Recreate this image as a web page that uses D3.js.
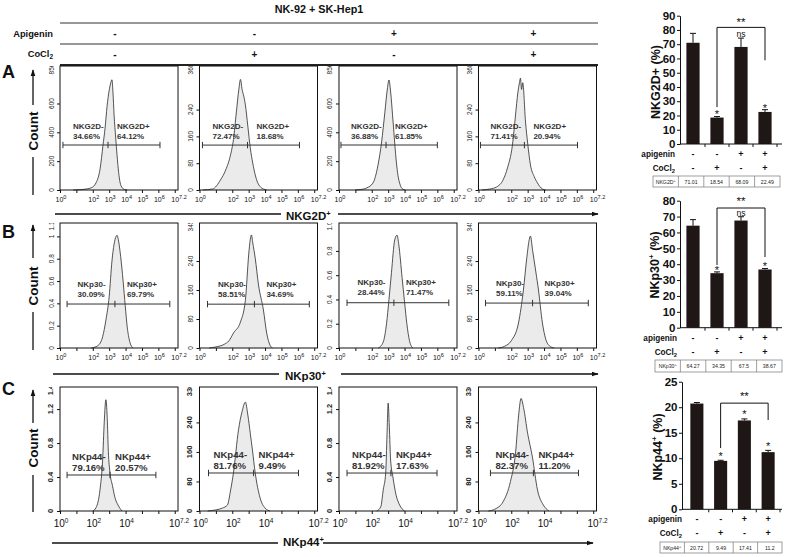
<!DOCTYPE html>
<html><head><meta charset="utf-8">
<script src="https://cdn.jsdelivr.net/npm/d3@7"></script>
<style>
body{margin:0;background:#fff}
svg{display:block}
text{font-family:"Liberation Sans",Arial,Helvetica,sans-serif}
</style>
</head><body>
<svg id="c" width="787" height="557"></svg>
<script>
// ---------------- DATA ----------------
const figTitle = "NK-92 + SK-Hep1";
const apigenin = ["-", "-", "+", "+"];
const cocl2 = ["-", "+", "-", "+"];
const rowLetters = ["A", "B", "C"];
const markers = ["NKG2D", "NKp30", "NKp44"];

// histogram points: [log10 fluorescence, count]
const histNKG2D = [
  [[0.8,0],[1.4,4],[1.9,15],[2.2,50],[2.45,150],[2.62,308],[2.75,430],[2.87,580],[3.0,690],[3.1,745],[3.17,765],[3.23,680],[3.3,520],[3.4,360],[3.48,243],[3.58,120],[3.66,55],[3.8,15],[3.96,2],[4.1,0]],
  [[0.2,0],[0.8,3],[1.28,30],[1.6,60],[1.89,104],[2.07,150],[2.25,233],[2.4,300],[2.5,330],[2.6,300],[2.7,280],[2.8,254],[2.95,190],[3.1,125],[3.25,80],[3.4,45],[3.55,22],[3.7,10],[3.9,3],[4.1,0]],
  [[1.0,0],[1.3,3],[1.7,15],[2.07,48],[2.38,173],[2.6,333],[2.8,540],[2.95,700],[3.05,763],[3.15,680],[3.3,472],[3.5,194],[3.6,100],[3.7,48],[3.9,5],[4.05,0]],
  [[0.2,0],[0.7,3],[1.1,9],[1.5,30],[1.77,66],[2.07,134],[2.26,224],[2.4,290],[2.5,320],[2.56,334],[2.63,300],[2.7,320],[2.87,203],[3.0,140],[3.17,75],[3.4,40],[3.6,21],[3.9,3],[4.1,0]]
];
const histNKp30 = [
  [[1.9,0],[2.3,0.02],[2.6,0.1],[2.8,0.25],[3.0,0.46],[3.17,0.78],[3.3,0.93],[3.42,1.0],[3.48,1.01],[3.56,0.97],[3.7,0.82],[3.85,0.6],[3.98,0.38],[4.1,0.19],[4.25,0.06],[4.45,0]],
  [[0.6,0],[1.0,3],[1.5,10],[1.8,20],[2.07,41],[2.5,72],[2.8,132],[3.0,257],[3.1,300],[3.17,312],[3.25,290],[3.4,248],[3.6,174],[3.9,105],[4.1,41],[4.3,8],[4.45,0]],
  [[2.4,0],[2.7,0.05],[2.9,0.2],[3.05,0.4],[3.2,0.62],[3.4,0.89],[3.54,0.93],[3.65,0.85],[3.85,0.58],[4.0,0.38],[4.14,0.2],[4.3,0.06],[4.5,0]],
  [[1.2,0],[1.6,5],[2.0,20],[2.44,69],[2.74,160],[2.95,250],[3.1,300],[3.17,309],[3.3,270],[3.5,210],[3.66,160],[3.9,69],[4.1,25],[4.35,5],[4.6,0]]
];
const histNKp44 = [
  [[2.0,0],[2.2,0.04],[2.44,0.25],[2.6,0.6],[2.7,1.05],[2.8,1.31],[2.88,1.1],[2.95,0.7],[3.05,0.45],[3.2,0.3],[3.35,0.16],[3.54,0.07],[3.78,0]],
  [[0.5,0],[1.0,3],[1.4,8],[1.7,16],[1.9,57],[2.07,103],[2.38,220],[2.6,270],[2.8,295],[2.95,260],[3.1,210],[3.23,165],[3.4,103],[3.7,35],[4.0,8],[4.3,0]],
  [[2.3,0],[2.55,0.05],[2.7,0.25],[2.85,0.45],[2.93,0.9],[3.0,1.27],[3.07,1.0],[3.15,0.6],[3.29,0.4],[3.48,0.19],[3.7,0.07],[4.0,0]],
  [[0.6,0],[1.0,5],[1.5,25],[1.95,80],[2.26,157],[2.45,260],[2.6,305],[2.75,280],[3.0,210],[3.29,146],[3.6,57],[3.96,16],[4.3,0]]
];

const yMaxNKG2D = [860, 370, 860, 370];
const yMaxNKp30 = [1.12, 345, 1.03, 345];
const yMaxNKp44 = [1.46, 336, 1.46, 336];
const yTicksNKG2D = [[0,200,400,600],[0,80,160,240],[0,200,400,600],[0,80,160,240]];
const yTicksNKp30 = [[0,0.2,0.4,0.6,0.8,1],[0,80,160,240],[0,0.2,0.4,0.6,0.8],[0,80,160,240]];
const yTicksNKp44 = [[0,0.4,0.8,1.2],[0,80,160,240],[0,0.4,0.8,1.2],[0,80,160,240]];
const yTopLabelNKG2D = ["856", "368", "856", "368"];
const yTopLabelNKp30 = ["1.1", "345", "1.0", "345"];
const yTopLabelNKp44 = ["1.4", "336", "1.4", "336"];

// gates: [left, divider, right] in log10 units; gate level in counts
const gatesNKG2D = [[0.18,2.93,6.1],[0.18,2.93,6.1],[0.12,2.87,6.0],[0.12,2.8,6.04]];
const gatesNKp30 = [[0.43,3.35,6.7],[0.49,3.35,6.7],[0.49,3.35,6.7],[0.43,3.3,6.7]];
const gatesNKp44 = [[0.43,3.05,5.85],[0.55,3.3,6.04],[0.49,3.17,5.98],[0.73,3.35,6.1]];
const gateLevelNKG2D = [312, 134, 312, 134];
const gateLevelNKp30 = [0.394, 121, 0.373, 124];
const gateLevelNKp44 = [0.424, 103, 0.447, 103];
const pctNKG2D = [["34.66%","64.12%"],["72.47%","18.68%"],["36.88%","61.85%"],["71.41%","20.94%"]];
const pctNKp30 = [["30.09%","69.79%"],["58.51%","34.69%"],["28.44%","71.47%"],["59.11%","39.04%"]];
const pctNKp44 = [["79.16%","20.57%"],["81.76%","9.49%"],["81.92%","17.63%"],["82.37%","11.20%"]];
const xTicksAB = [0,2,3,4,5,6,7.2];
const xTicksC = [0,2,4,7.2];
const xDecades = [0,1,2,3,4,5,6,7];

// bar charts
const barNKG2D = [71.01, 18.54, 68.09, 22.49];
const errNKG2D = [6.6, 0.7, 6.2, 1.6];
const sigNKG2D = ["", "*", "ns", "*"];
const tableNKG2D = ["71.01", "18.54", "68.09", "22.49"];
const barNKp30 = [64.27, 34.35, 67.5, 36.67];
const errNKp30 = [3.8, 0.8, 2.4, 0.6];
const sigNKp30 = ["", "*", "ns", "*"];
const tableNKp30 = ["64.27", "34.35", "67.5", "38.67"];
const barNKp44 = [20.72, 9.49, 17.41, 11.2];
const errNKp44 = [0.2, 0.12, 0.3, 0.35];
const sigNKp44 = ["", "*", "*", "*"];
const tableNKp44 = ["20.72", "9.49", "17.41", "11.2"];
const yTicksBarNKG2D = [0,10,20,30,40,50,60,70,80,90];
const yTicksBarNKp30 = [0,10,20,30,40,50,60,70,80];
const yTicksBarNKp44 = [0,5,10,15,20,25];
// bracket: [from bar, to bar, level, left leg end, right leg end]
const bracketNKG2D = [1, 3, 81.8, 25.9, 58.7];
const bracketNKp30 = [1, 3, 75.4, 39.5, 44.5];
const bracketNKp44 = [1, 3, 20.8, 12.0, 17.5];

// ---------------- DRAWING ----------------
const svg = d3.select("#c");
const defs = svg.append("defs");
defs.append("marker").attr("id","arr").attr("viewBox","0 0 10 10").attr("refX",9).attr("refY",5)
  .attr("markerWidth",7).attr("markerHeight",7).attr("markerUnits","userSpaceOnUse").attr("orient","auto")
  .append("path").attr("d","M0,1.5L10,5L0,8.5Z").attr("fill","#111");

// header
const hdr = svg.append("g");
hdr.append("text").attr("x",319).attr("y",13).attr("text-anchor","middle")
  .attr("font-size",10.8).attr("font-weight","bold").attr("fill","#111").text(figTitle);
[23,44].forEach(yy => hdr.append("line").attr("x1",60).attr("x2",598).attr("y1",yy).attr("y2",yy)
  .attr("stroke","#333").attr("stroke-width",1));
hdr.append("line").attr("x1",60).attr("x2",598).attr("y1",65).attr("y2",65).attr("stroke","#222").attr("stroke-width",2);
hdr.append("text").attr("x",53).attr("y",36.5).attr("text-anchor","end").attr("font-size",9.3)
  .attr("font-weight","bold").attr("fill","#111").text("Apigenin");
const coT = hdr.append("text").attr("x",53).attr("y",57).attr("text-anchor","end").attr("font-size",9.3)
  .attr("font-weight","bold").attr("fill","#111");
coT.append("tspan").text("CoCl");
coT.append("tspan").attr("font-size",6.5).attr("dy",2).text("2");

const colBand = d3.scaleBand().domain(d3.range(4)).range([60,596.5]).paddingInner(0.154);
const bw = colBand.bandwidth();
apigenin.forEach((s,i) => hdr.append("text").attr("x",colBand(i)+bw/2-4).attr("y",37)
  .attr("text-anchor","middle").attr("font-size",10).attr("font-weight","bold").attr("fill","#111").text(s));
cocl2.forEach((s,i) => hdr.append("text").attr("x",colBand(i)+bw/2-4).attr("y",58)
  .attr("text-anchor","middle").attr("font-size",10).attr("font-weight","bold").attr("fill","#111").text(s));

const rows = [
  {hist:histNKG2D, yMax:yMaxNKG2D, yTicks:yTicksNKG2D, topLab:yTopLabelNKG2D, gates:gatesNKG2D, gateLv:gateLevelNKG2D, pct:pctNKG2D,
   top:66, bottom:190, xTicks:xTicksAB, xFont:7, supFont:5.5, xLabDy:12, yFont:6.5, yBold:false, yLabOff:6.5,
   labFont:8, dxL:10, dxR:9, nameDy:-16.3, pctDy:-6.3, letterY:78, countY:131, arrow:[105,70], below:[157,195],
   titleX:286, titleY:220, lineY:214, lineL:[55,281], lineR:[338,598]},
  {hist:histNKp30, yMax:yMaxNKp30, yTicks:yTicksNKp30, topLab:yTopLabelNKp30, gates:gatesNKp30, gateLv:gateLevelNKp30, pct:pctNKp30,
   top:223, bottom:348, xTicks:xTicksAB, xFont:7, supFont:5.5, xLabDy:12, yFont:6.5, yBold:false, yLabOff:6.5,
   labFont:8, dxL:10.5, dxR:12, nameDy:-17.3, pctDy:-7.3, letterY:238, countY:286, arrow:[258,225], below:[312,350],
   titleX:285, titleY:380, lineY:374, lineL:[53,279], lineR:[341,598]},
  {hist:histNKp44, yMax:yMaxNKp44, yTicks:yTicksNKp44, topLab:yTopLabelNKp44, gates:gatesNKp44, gateLv:gateLevelNKp44, pct:pctNKp44,
   top:387, bottom:511, xTicks:xTicksC, xFont:10, supFont:6.5, xLabDy:16, yFont:7.5, yBold:true, yLabOff:7,
   labFont:9.6, dxL:5, dxR:5, nameDy:-15.2, pctDy:-4.2, letterY:395, countY:448, arrow:[423,390], below:[475,512],
   titleX:283, titleY:546, lineY:543, lineL:[52,278], lineR:[323,593]}
];

rows.forEach((R, r) => {
  const g = svg.append("g");
  const cid = "clip" + r;
  defs.append("clipPath").attr("id",cid).append("rect").attr("x",0).attr("y",R.top).attr("width",600).attr("height",R.bottom-R.top+60);

  g.append("text").attr("x",2).attr("y",R.letterY).attr("font-size",18).attr("font-weight","bold").attr("fill","#111").text(rowLetters[r]);
  g.append("line").attr("x1",33).attr("x2",33).attr("y1",R.arrow[0]).attr("y2",R.arrow[1])
    .attr("stroke","#111").attr("stroke-width",1.3).attr("marker-end","url(#arr)");
  g.append("line").attr("x1",33).attr("x2",33).attr("y1",R.below[0]).attr("y2",R.below[1]).attr("stroke","#111").attr("stroke-width",1.3);
  g.append("text").attr("transform",`translate(37.5,${R.countY}) rotate(-90)`).attr("text-anchor","middle")
    .attr("font-size",13.5).attr("font-weight","bold").attr("fill","#111").text("Count");
  const tt = g.append("text").attr("x",R.titleX).attr("y",R.titleY).attr("font-size",11.5).attr("font-weight","bold").attr("fill","#111");
  tt.append("tspan").text(markers[r]);
  tt.append("tspan").attr("font-size",7.5).attr("dy",-4.5).text("+");
  g.append("line").attr("x1",R.lineL[0]).attr("x2",R.lineL[1]).attr("y1",R.lineY).attr("y2",R.lineY).attr("stroke","#111").attr("stroke-width",1.3);
  g.append("line").attr("x1",R.lineR[0]).attr("x2",R.lineR[1]).attr("y1",R.lineY).attr("y2",R.lineY)
    .attr("stroke","#111").attr("stroke-width",1.3).attr("marker-end","url(#arr)");

  for (let i = 0; i < 4; i++) {
    const x0 = colBand(i), x1 = x0 + bw;
    const x = d3.scaleLinear().domain([0,7.2]).range([x0,x1]);
    const y = d3.scaleLinear().domain([0,R.yMax[i]]).range([R.bottom,R.top]);
    const p = g.append("g");
    const area = d3.area().x(d=>x(d[0])).y0(y(0)).y1(d=>y(d[1])).curve(d3.curveMonotoneX);
    const line = d3.line().x(d=>x(d[0])).y(d=>y(d[1])).curve(d3.curveMonotoneX);
    p.append("path").datum(R.hist[i]).attr("d",area).attr("fill","#ebebeb");
    p.append("path").datum(R.hist[i]).attr("d",line).attr("fill","none").attr("stroke","#2a2a2a").attr("stroke-width",0.8);
    p.append("rect").attr("x",x0).attr("y",R.top).attr("width",bw).attr("height",R.bottom-R.top)
      .attr("fill","none").attr("stroke","#111").attr("stroke-width",1);
    p.append("g").attr("transform",`translate(0,${R.bottom})`)
      .call(d3.axisBottom(x).tickValues(xDecades).tickSize(3).tickFormat(""))
      .call(s=>{s.select(".domain").remove(); s.selectAll("line").attr("stroke","#111");});
    R.xTicks.forEach(t => {
      const tx = p.append("text").attr("x",x(t)+1).attr("y",R.bottom+R.xLabDy).attr("text-anchor","middle")
        .attr("font-size",R.xFont).attr("fill","#111");
      tx.append("tspan").text("10");
      tx.append("tspan").attr("font-size",R.supFont).attr("dy",-R.xFont*0.42).text(String(t));
    });
    p.append("g").attr("transform",`translate(${x0},0)`)
      .call(d3.axisLeft(y).tickValues(R.yTicks[i]).tickSize(3).tickFormat(""))
      .call(s=>{s.select(".domain").remove(); s.selectAll("line").attr("stroke","#111");});
    const yl = p.append("g").attr("clip-path",`url(#${cid})`);
    R.yTicks[i].forEach(t => {
      yl.append("text").attr("transform",`translate(${x0-R.yLabOff},${y(t)}) rotate(-90)`)
        .attr("text-anchor","middle").attr("font-size",R.yFont).attr("font-weight",R.yBold?"bold":"normal")
        .attr("fill","#222").text(String(t));
    });
    yl.append("text").attr("transform",`translate(${x0-R.yLabOff},${R.top+3}) rotate(-90)`)
      .attr("text-anchor","middle").attr("font-size",R.yFont).attr("font-weight",R.yBold?"bold":"normal")
      .attr("fill","#222").text(R.topLab[i]);
    const gt = R.gates[i], gy = y(R.gateLv[i]);
    p.append("line").attr("x1",x(gt[0])).attr("x2",x(gt[2])).attr("y1",gy).attr("y2",gy).attr("stroke","#333").attr("stroke-width",1);
    gt.forEach(v => p.append("line").attr("x1",x(v)).attr("x2",x(v)).attr("y1",gy-3.2).attr("y2",gy+3.2).attr("stroke","#333").attr("stroke-width",1));
    const lab = (tx, ty, s) => p.append("text").attr("x",tx).attr("y",ty).attr("font-size",R.labFont)
      .attr("font-weight","bold").attr("fill","#333").text(s);
    lab(x(gt[0])+R.dxL, gy+R.nameDy, markers[r]+"-");
    lab(x(gt[0])+R.dxL, gy+R.pctDy, R.pct[i][0]);
    lab(x(gt[1])+R.dxR, gy+R.nameDy, markers[r]+"+");
    lab(x(gt[1])+R.dxR, gy+R.pctDy, R.pct[i][1]);
  }
});

// ---------------- BAR CHARTS ----------------
const bars = [
  {vals:barNKG2D, errs:errNKG2D, sig:sigNKG2D, tab:tableNKG2D, ticks:yTicksBarNKG2D, br:bracketNKG2D, marker:"NKG2D", supTitle:false,
   yMax:90, yTop:15.7, yBottom:144, axisX:680, axisEnd:782, band:[681,777], labRight:675, apiY:156.5, cocY:171,
   tableX:[653,780], tableY:[176,187], titleX:660, titleY:82, starUp:4.5, ddY:-1.5, nsUp:0},
  {vals:barNKp30, errs:errNKp30, sig:sigNKp30, tab:tableNKp30, ticks:yTicksBarNKp30, br:bracketNKp30, marker:"NKp30", supTitle:true,
   yMax:80, yTop:200.7, yBottom:327.7, axisX:680, axisEnd:782, band:[681,777], labRight:677, apiY:341, cocY:355,
   tableX:[655,782], tableY:[360,372], titleX:659, titleY:265, starUp:4.5, ddY:-3, nsUp:0.5},
  {vals:barNKp44, errs:errNKp44, sig:sigNKp44, tab:tableNKp44, ticks:yTicksBarNKp44, br:bracketNKp44, marker:"NKp44", supTitle:true,
   yMax:25, yTop:381.7, yBottom:509.3, axisX:682, axisEnd:782, band:[685,780], labRight:682, apiY:522, cocY:536,
   tableX:[660,782], tableY:[542,553], titleX:662, titleY:447, starUp:7, ddY:-3, nsUp:0}
];

bars.forEach(B => {
  const g = svg.append("g");
  const y = d3.scaleLinear().domain([0,B.yMax]).range([B.yBottom,B.yTop]);
  const x = d3.scaleBand().domain(d3.range(4)).range(B.band).paddingInner(0.45).paddingOuter(0.225);
  const cx = i => x(i) + x.bandwidth()/2;
  const step = x.step();
  B.vals.forEach((v,i) => {
    g.append("rect").attr("x",x(i)).attr("y",y(v)).attr("width",x.bandwidth()).attr("height",y(0)-y(v)).attr("fill","#1e1715");
    const et = y(v + B.errs[i]);
    g.append("line").attr("x1",cx(i)).attr("x2",cx(i)).attr("y1",y(v)).attr("y2",et).attr("stroke","#111").attr("stroke-width",1);
    g.append("line").attr("x1",cx(i)-3).attr("x2",cx(i)+3).attr("y1",et).attr("y2",et).attr("stroke","#111").attr("stroke-width",1);
    const s = B.sig[i];
    if (s === "ns") {
      g.append("text").attr("x",cx(i)).attr("y",et-1+B.nsUp).attr("text-anchor","middle").attr("font-size",8.6).attr("fill","#111").text(s);
    } else if (s) {
      g.append("text").attr("x",cx(i)).attr("y",et-B.starUp+6.4).attr("text-anchor","middle").attr("font-size",11).attr("fill","#111").text(s);
    }
  });
  g.append("g").attr("transform",`translate(${B.axisX},0)`)
    .call(d3.axisLeft(y).tickValues(B.ticks).tickSize(3).tickSizeOuter(0).tickPadding(1.5))
    .call(s=>{s.selectAll("line,path").attr("stroke","#111");
      s.selectAll("text").attr("font-size",11.5).attr("font-weight","bold").attr("fill","#111")
       .attr("font-family",'"Liberation Sans",Arial,sans-serif');});
  g.append("line").attr("x1",B.axisX).attr("x2",B.axisEnd).attr("y1",y(0)).attr("y2",y(0)).attr("stroke","#111").attr("stroke-width",1);
  [1,2,3,4].forEach(k => {
    const tx = x(0) - step*0.225 + k*step;
    g.append("line").attr("x1",tx).attr("x2",tx).attr("y1",y(0)).attr("y2",y(0)+3).attr("stroke","#111");
  });
  const [b0,b1,lv,le,re] = B.br;
  g.append("path").attr("d",`M${cx(b0)},${y(le)}V${y(lv)}H${cx(b1)}V${y(re)}`).attr("fill","none").attr("stroke","#111").attr("stroke-width",1);
  g.append("text").attr("x",(cx(b0)+cx(b1))/2).attr("y",y(lv)+B.ddY).attr("text-anchor","middle").attr("font-size",11.5).attr("fill","#111").text("**");
  const tt = g.append("text").attr("transform",`translate(${B.titleX},${B.titleY}) rotate(-90)`).attr("text-anchor","middle")
    .attr("font-size",12.5).attr("font-weight","bold").attr("fill","#111");
  if (B.supTitle) {
    tt.append("tspan").text(B.marker);
    tt.append("tspan").attr("font-size",8).attr("dy",-5).text("+");
    tt.append("tspan").attr("dy",5).text(" (%)");
  } else {
    tt.append("tspan").text(B.marker + "+ (%)");
  }
  g.append("text").attr("x",B.labRight).attr("y",B.apiY).attr("text-anchor","end").attr("font-size",8.2).attr("font-weight","bold").attr("fill","#111").text("apigenin");
  const ct = g.append("text").attr("x",B.labRight).attr("y",B.cocY).attr("text-anchor","end").attr("font-size",8.2).attr("font-weight","bold").attr("fill","#111");
  ct.append("tspan").text("CoCl");
  ct.append("tspan").attr("font-size",5.8).attr("dy",1.8).text("2");
  apigenin.forEach((s,i)=> g.append("text").attr("x",cx(i)).attr("y",B.apiY).attr("text-anchor","middle").attr("font-size",9).attr("font-weight","bold").attr("fill","#111").text(s));
  cocl2.forEach((s,i)=> g.append("text").attr("x",cx(i)).attr("y",B.cocY).attr("text-anchor","middle").attr("font-size",9).attr("font-weight","bold").attr("fill","#111").text(s));
  const tc = d3.scaleBand().domain(d3.range(5)).range(B.tableX);
  const [ty0,ty1] = B.tableY;
  g.append("rect").attr("x",B.tableX[0]).attr("y",ty0).attr("width",B.tableX[1]-B.tableX[0]).attr("height",ty1-ty0)
    .attr("fill","#fff").attr("stroke","#777").attr("stroke-width",0.7);
  [1,2,3,4].forEach(k => g.append("line").attr("x1",tc(k)).attr("x2",tc(k)).attr("y1",ty0).attr("y2",ty1).attr("stroke","#777").attr("stroke-width",0.7));
  const hl = g.append("text").attr("x",tc(0)+tc.bandwidth()/2).attr("y",(ty0+ty1)/2+2).attr("text-anchor","middle").attr("font-size",5.2).attr("fill","#222");
  hl.append("tspan").text(B.marker);
  hl.append("tspan").attr("font-size",3.8).attr("dy",-2).text("+");
  B.tab.forEach((s,i) => g.append("text").attr("x",tc(i+1)+tc.bandwidth()/2).attr("y",(ty0+ty1)/2+2).attr("text-anchor","middle")
    .attr("font-size",5.2).attr("fill","#222").text(s));
});
</script>
</body></html>
